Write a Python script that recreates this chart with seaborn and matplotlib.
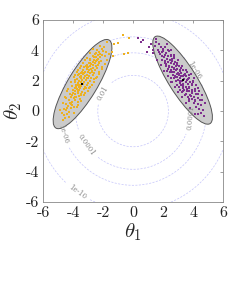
import numpy as np
import pandas as pd
import matplotlib
matplotlib.use("Agg")
import matplotlib.pyplot as plt
from matplotlib.patches import Ellipse
import seaborn as sns

# ---------------- data ----------------
orange_x = [-4.70,-4.55,-4.62,-4.40,-4.75,-4.45,-4.25,-4.60,-4.15,-4.35,-4.05,-4.50,-4.20,-3.95,
            -4.10,-3.85,-4.30,-3.95,-4.15,-3.70,-3.80,-4.05,-3.60,-3.90,-3.70,-4.20,-3.50,-3.85,
            -3.65,-3.40,-4.00,-3.75,-3.55,-3.30,-3.90,-3.62,-3.20,-3.45,
            -3.80,-3.55,-3.35,-3.10,-3.70,-3.48,-3.25,-3.00,-3.60,-3.90,-3.15,-3.40,-2.90,-3.75,
            -3.30,-3.05,-3.55,-2.80,-3.20,-3.45,-2.95,-3.65,-3.10,-2.70,-3.35,-2.85,-3.00,-3.50,-2.60,
            -3.20,-2.75,-2.95,-3.35,-2.55,-3.10,-2.80,-2.65,-3.00,-2.40,-3.25,-2.90,-2.50,-2.70,
            -3.05,-2.35,-2.80,-2.55,-2.95,-2.25,-2.65,-2.45,-2.85,-2.15,-2.60,-2.35,
            -2.50,-2.20,-2.70,-2.35,-2.05,-2.55,
            -2.25,-2.00,-2.40,-2.10,-1.95,-2.20,
            -4.50,-3.20,-4.10,-2.60,-3.90,-2.30,-3.50,-2.10,-3.20,-1.90,-4.40,-2.85,-3.70,-2.50,-3.55,-4.30,
            -4.85,-4.70,-4.55,-4.35,-4.15,-3.95,-3.75,-3.55,-3.35,-3.10,-2.85,-2.65,
            -3.95,-3.75,-3.45,-3.25,-3.00,-2.75,-2.50,-2.30,-2.10,-1.90,-1.75,-1.80,
            -4.25,-4.00,-3.80,-3.60,-3.45,-3.25,-3.05,-2.85,-2.60,-3.50,-3.30,-3.00,-2.75,-2.45,-2.25,
            -4.40,-4.15,-3.90,-3.65,-3.40,-3.15,-2.90,-2.40,-2.20,-3.70,-3.15,-2.60,-2.95,-2.40,-3.85,-3.60,
            -1.60,-1.35,-1.40,-1.25,-1.00,-0.60,-0.35,-0.67,-0.28,-1.75]
orange_y = [-0.62,-0.45,-0.28,-0.20,-0.10,0.05,-0.05,0.15,0.20,0.32,0.38,0.45,0.55,0.28,
            0.62,0.70,0.75,0.85,0.95,0.58,0.95,1.05,1.00,1.15,1.20,1.10,1.12,1.30,
            1.35,1.28,1.40,1.48,1.52,1.45,1.55,1.62,1.58,1.65,
            1.70,1.75,1.80,1.72,1.85,1.90,1.95,1.88,2.00,1.92,2.05,2.08,2.00,2.12,
            2.15,2.18,2.22,2.15,2.28,2.32,2.30,2.38,2.40,2.35,2.45,2.48,2.55,2.52,2.50,
            2.60,2.62,2.68,2.70,2.68,2.75,2.80,2.85,2.88,2.82,2.90,2.95,2.98,3.02,
            3.05,3.05,3.12,3.15,3.20,3.18,3.25,3.30,3.35,3.32,3.40,3.45,
            3.55,3.58,3.62,3.70,3.68,3.78,
            3.90,3.95,4.05,4.12,4.25,4.30,
            0.85,1.20,1.65,2.10,2.40,2.60,2.95,2.90,3.40,3.60,1.30,1.60,2.70,3.85,0.80,-0.40,
            0.10,0.50,0.95,1.45,1.90,2.25,2.55,2.85,3.15,3.50,3.80,4.10,
            -0.10,0.30,0.65,1.05,1.35,1.75,2.15,2.45,2.75,3.10,3.40,3.90,
            0.70,1.20,1.60,1.40,2.20,2.50,2.85,3.20,3.55,1.05,1.90,2.20,2.55,2.95,3.25,
            0.20,0.45,0.95,1.75,2.60,2.95,3.45,3.40,3.75,0.40,1.50,1.95,1.55,2.25,2.05,2.45,
            3.75,3.60,3.90,4.40,4.48,3.75,3.80,5.00,4.80,4.55]

purple_x = [1.55,1.75,1.45,1.85,2.00,1.65,2.15,1.95,2.20,1.80,2.40,2.10,
            2.30,2.05,2.55,2.25,2.45,1.95,2.70,
            2.60,2.35,2.80,2.50,2.20,2.70,2.95,2.40,2.85,
            2.60,3.05,2.75,2.30,2.95,3.20,2.55,2.85,3.10,2.70,3.35,2.45,3.00,2.90,
            3.20,2.65,3.45,3.05,2.80,3.30,3.55,2.95,3.15,3.70,2.70,3.40,3.00,3.60,3.25,2.85,
            3.50,3.10,3.80,3.35,3.65,2.95,3.20,3.90,3.50,3.75,3.05,3.35,
            3.60,3.90,3.40,4.10,3.70,3.25,3.95,3.55,4.20,3.80,
            4.05,3.65,4.30,3.90,4.15,3.75,4.45,
            4.05,4.30,4.55,4.20,4.40,4.65,4.50,4.75,4.35,
            2.10,3.60,2.50,4.00,3.00,2.20,3.85,3.10,4.30,2.75,3.45,4.60,1.70,3.25,2.60,
            2.25,2.50,2.75,3.00,3.25,3.50,3.75,4.00,4.20,4.40,4.60,4.80,
            1.35,1.60,1.85,2.05,2.30,2.55,2.80,3.00,3.25,3.50,3.80,4.10,
            1.90,2.15,2.40,2.60,2.85,3.10,3.35,3.60,3.85,4.10,2.35,2.60,2.90,3.15,3.40,3.65,3.90,
            4.15,4.35,2.00,3.20,3.50,2.75,3.05,3.75,3.95,2.50,2.25,3.30,4.05,3.70,
            0.33,0.67,0.90,1.07,1.20,1.36,0.55,1.50]
purple_y = [4.55,4.40,4.30,4.20,4.10,4.05,4.25,3.90,3.85,3.75,3.95,3.70,
            3.60,3.55,3.65,3.45,3.40,3.35,3.50,
            3.30,3.22,3.25,3.15,3.10,3.08,3.15,3.00,2.98,
            2.92,2.95,2.85,2.80,2.78,2.82,2.72,2.68,2.65,2.58,2.70,2.55,2.52,2.45,
            2.48,2.40,2.45,2.38,2.30,2.32,2.28,2.22,2.18,2.20,2.15,2.12,2.08,2.05,2.00,1.98,
            1.92,1.88,1.90,1.80,1.78,1.75,1.70,1.72,1.62,1.58,1.60,1.55,
            1.45,1.42,1.38,1.35,1.30,1.28,1.20,1.15,1.12,1.05,
            0.95,0.90,0.88,0.80,0.72,0.65,0.70,
            0.55,0.45,0.38,0.28,0.15,0.05,-0.10,-0.35,-0.20,
            3.20,2.60,2.20,1.95,3.35,2.95,2.45,1.40,1.55,3.60,1.05,0.75,3.90,2.95,1.90,
            4.45,4.05,3.70,3.35,3.00,2.70,2.35,2.00,1.70,1.35,1.05,0.55,
            3.80,3.40,3.05,2.65,2.30,1.95,1.60,1.25,0.90,0.55,0.20,-0.20,
            3.60,3.30,2.90,2.60,2.25,2.00,1.65,1.35,1.00,0.65,4.00,3.45,3.05,2.70,2.40,2.10,1.80,
            1.45,1.10,3.95,2.30,1.95,2.75,2.45,1.55,1.25,3.70,2.65,1.30,2.20,0.80,
            4.80,4.70,3.90,4.20,4.40,4.00,4.55,4.75]

mode_x = [-3.38, 3.31]
mode_y = [1.76, 2.04]

ell_cx = [-3.37, 3.30]
ell_cy = [1.78, 2.04]
ell_semi_major = [3.40, 3.40]
ell_semi_minor = [0.97, 0.92]
ell_angle = [58.5, -57.4]

contour_levels = [1e-10, 1e-6, 1e-4, 1e-2]
ticks = [-6, -4, -2, 0, 2, 4, 6]
tick_labels = ["-6", "-4", "-2", "0", "2", "4", "6"]

# ---------------- style ----------------
sns.set_theme(style="white")
plt.rcParams["mathtext.fontset"] = "cm"
plt.rcParams["font.family"] = ["DejaVu Serif"]

fig = plt.figure(figsize=(2.49, 2.87), dpi=100)
ax = fig.add_axes([0.173, 0.296, 0.723, 0.634])

# prior density contours
g = np.linspace(-6, 6, 400)
GX, GY = np.meshgrid(g, g)
Z = np.exp(-(GX**2 + GY**2) / 2) / (2 * np.pi)
cs = ax.contour(GX, GY, Z, levels=contour_levels, colors="#c4c4fa",
                linewidths=0.5, linestyles=[(0, (3, 2))], zorder=1)

# ellipses
for cx, cy, a, b, ang in zip(ell_cx, ell_cy, ell_semi_major, ell_semi_minor, ell_angle):
    ax.add_patch(Ellipse((cx, cy), 2 * a, 2 * b, angle=ang, facecolor="#cbcbcb",
                         edgecolor="#555555", linewidth=0.7, zorder=2))

df_o = pd.DataFrame({"x": orange_x, "y": orange_y})
df_p = pd.DataFrame({"x": purple_x, "y": purple_y})
sns.scatterplot(data=df_o, x="x", y="y", ax=ax, color="#EDB120", marker="s",
                s=3, linewidth=0, zorder=3)
sns.scatterplot(data=df_p, x="x", y="y", ax=ax, color="#7E2F8E", marker="s",
                s=3, linewidth=0, zorder=3)
ax.scatter(mode_x, mode_y, color="black", marker="s", s=2, linewidths=0, zorder=4)

manual = [(-2.0, 1.2), (-3.1, -2.2), (-4.6, -1.5), (-3.7, -5.3), (4.1, 2.7), (3.8, -0.4)]
lbls = ax.clabel(cs, levels=contour_levels, fmt="%g", fontsize=5, colors="#8a8a8a",
                 manual=manual, inline=True)
for t in lbls:
    t.set_zorder(5)

ax.set_xlim(-6, 6)
ax.set_ylim(-6, 6)
ax.set_xticks(ticks)
ax.set_yticks(ticks)
ax.set_xticklabels(tick_labels, fontfamily="cmr10", fontsize=11.5)
ax.set_yticklabels(tick_labels, fontfamily="cmr10", fontsize=11.5)
ax.tick_params(direction="in", length=2.5, width=0.5, color="#777777",
               top=True, right=True, pad=3, labelcolor="#222222")
for sp in ax.spines.values():
    sp.set_color("#888888")
    sp.set_linewidth(0.6)
ax.set_xlabel(r"$\theta_1$", fontsize=15, labelpad=1)
ax.set_ylabel(r"$\theta_2$", fontsize=15, labelpad=1)
ax.set_aspect("auto")

fig.savefig("out.png", dpi=100)
